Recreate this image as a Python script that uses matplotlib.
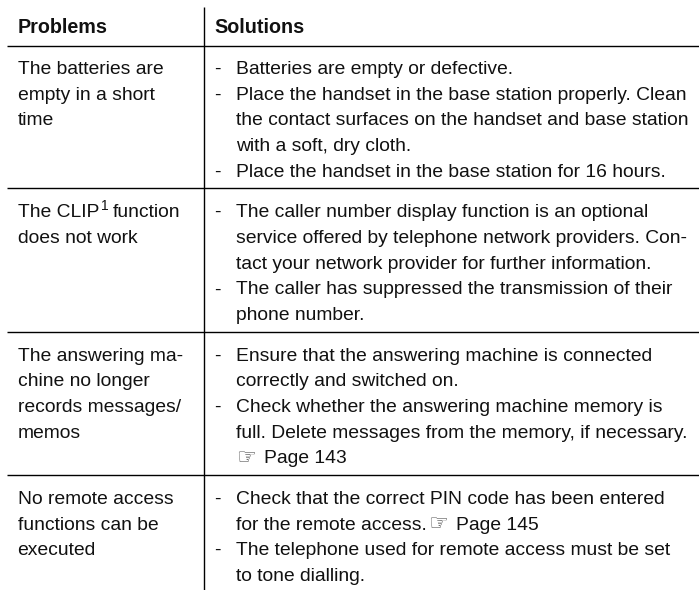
import matplotlib
matplotlib.use("Agg")
import matplotlib.pyplot as plt

headers = ["Problems", "Solutions"]
problems = [
    ["The batteries are", "empty in a short", "time"],
    ["The CLIP|1| function", "does not work"],
    ["The answering ma-", "chine no longer", "records messages/", "memos"],
    ["No remote access", "functions can be", "executed"],
]
solutions = [
    [("-", "Batteries are empty or defective."),
     ("-", "Place the handset in the base station properly. Clean"),
     ("", "the contact surfaces on the handset and base station"),
     ("", "with a soft, dry cloth."),
     ("-", "Place the handset in the base station for 16 hours.")],
    [("-", "The caller number display function is an optional"),
     ("", "service offered by telephone network providers. Con-"),
     ("", "tact your network provider for further information."),
     ("-", "The caller has suppressed the transmission of their"),
     ("", "phone number.")],
    [("-", "Ensure that the answering machine is connected"),
     ("", "correctly and switched on."),
     ("-", "Check whether the answering machine memory is"),
     ("", "full. Delete messages from the memory, if necessary."),
     ("", "\u261e|Page 143")],
    [("-", "Check that the correct PIN code has been entered"),
     ("", "for the remote access. \u261e|Page 145"),
     ("-", "The telephone used for remote access must be set"),
     ("", "to tone dialling.")],
]

W, H = 699, 590
FS = 13.9
LS = 25.7
INK = "#111111"
fig = plt.figure(figsize=(W / 100, H / 100), dpi=100)
ax = fig.add_axes([0, 0, 1, 1])
ax.set_xlim(0, W)
ax.set_ylim(H, 0)
ax.axis("off")
kw = dict(family="Liberation Sans", fontsize=FS, color=INK, va="baseline", ha="left")
r = fig.canvas.get_renderer()
inv = ax.transData.inverted()

def right(t):
    return inv.transform(t.get_window_extent(r))[1][0]

def put(x, y, s):
    if "\u261e|" in s:
        pre, post = s.split("\u261e|")
        if pre:
            t = ax.text(x, y, pre.rstrip(), **kw)
            x = right(t) + 1
        hk = dict(kw); hk.update(family="DejaVu Sans", fontsize=16, color="#555555")
        ax.text(x, y + 1, "\u261e", **hk)
        ax.text(x + 28, y, post, **kw)
    elif s.count("|") == 2:
        a, sup, b = s.split("|")
        t = ax.text(x, y, a, **kw)
        e = right(t)
        ax.text(e + 2, y - 7, sup, **dict(kw, fontsize=10))
        ax.text(e + 14, y, b.strip(), **kw)
    else:
        ax.text(x, y, s, **kw)

hkw = dict(kw, fontsize=14.2)
ax.text(17.5, 33, headers[0], fontweight="bold", **hkw)
ax.text(214, 33, headers[1], fontweight="bold", **hkw)
ax.plot([7, W], [46, 46], color="black", lw=1.0, solid_capstyle="butt")
ax.plot([203.5, 203.5], [7, H], color="black", lw=1.0, solid_capstyle="butt")

y0 = 74
for i, (p, s) in enumerate(zip(problems, solutions)):
    for j, line in enumerate(p):
        put(17.5, y0 + j * LS, line)
    for j, (b, line) in enumerate(s):
        if b:
            ax.text(214, y0 + j * LS, b, **kw)
        put(236, y0 + j * LS, line)
    y = y0 + (len(s) - 1) * LS + 11.5
    if i < len(problems) - 1:
        ax.plot([7, W], [y, y], color="black", lw=1.0, solid_capstyle="butt")
    y0 = y + 29
fig.savefig("out.png", dpi=100)
